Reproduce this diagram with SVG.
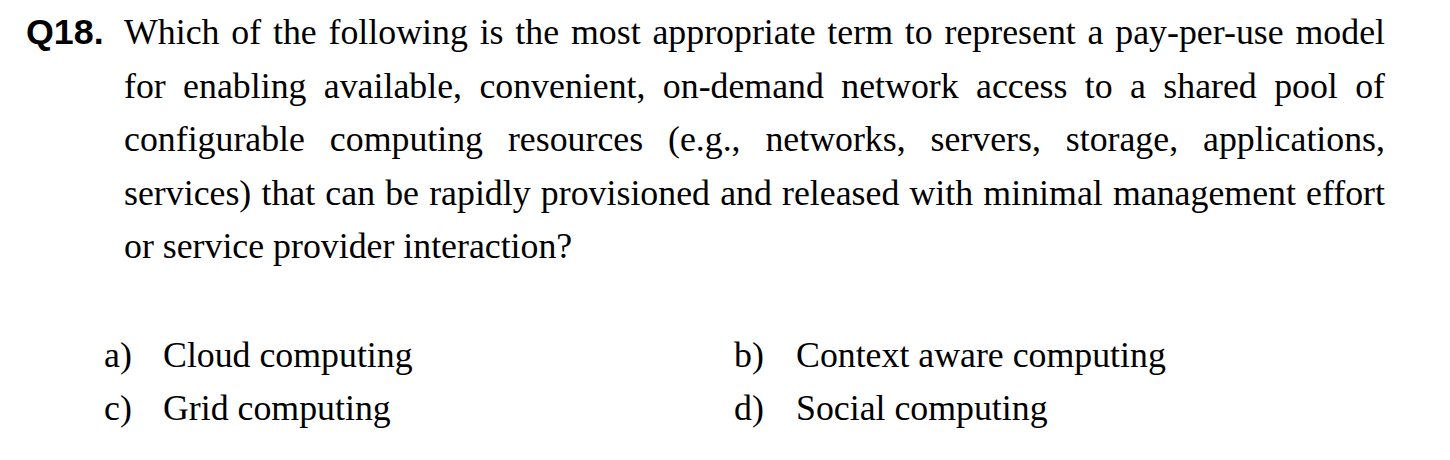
<svg xmlns="http://www.w3.org/2000/svg" width="1450" height="460" viewBox="0 0 1450 460">
<style>
.q{font-family:"Liberation Sans",Arial,sans-serif;font-weight:bold;font-size:35.8px;fill:#000}
.t{font-family:"Liberation Serif","Times New Roman",serif;font-size:35.8px;fill:#000}
</style>
<rect x="0" y="0" width="1450" height="460" fill="#fff"/>
<g id="question">
<text class="q" x="26" y="44">Q18.</text>
<text class="t" x="124" y="44" word-spacing="2.85" textLength="1261" lengthAdjust="spacing">Which of the following is the most appropriate term to represent a pay-per-use model</text>
<text class="t" x="124" y="97.5" word-spacing="8.4" textLength="1261" lengthAdjust="spacing">for enabling available, convenient, on-demand network access to a shared pool of</text>
<text class="t" x="124" y="151" word-spacing="15.9" textLength="1261" lengthAdjust="spacing">configurable computing resources (e.g., networks, servers, storage, applications,</text>
<text class="t" x="124" y="204.5" word-spacing="1.2" textLength="1261" lengthAdjust="spacing">services) that can be rapidly provisioned and released with minimal management effort</text>
<text class="t" x="124" y="258">or service provider interaction?</text>
</g>
<g id="option-a">
<text class="t" x="104" y="367">a)</text>
<text class="t" x="163" y="367">Cloud computing</text>
</g>
<g id="option-b">
<text class="t" x="734" y="367">b)</text>
<text class="t" x="796" y="367">Context aware computing</text>
</g>
<g id="option-c">
<text class="t" x="104" y="420">c)</text>
<text class="t" x="163" y="420">Grid computing</text>
</g>
<g id="option-d">
<text class="t" x="734" y="420">d)</text>
<text class="t" x="796" y="420">Social computing</text>
</g>
</svg>
